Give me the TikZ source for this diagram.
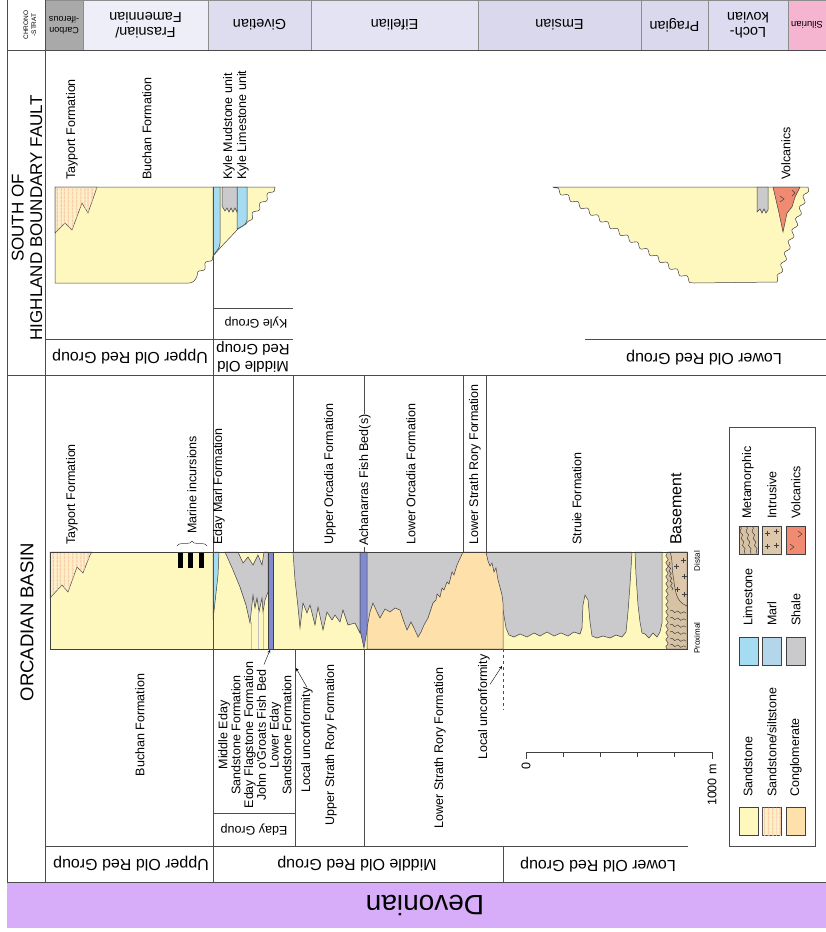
\documentclass[tikz,border=0pt]{standalone}
\usepackage{fontspec}
\setmainfont{Liberation Sans}
\usetikzlibrary{arrows,positioning,decorations.pathmorphing,decorations.pathreplacing,patterns.meta}

\definecolor{sandcol}{HTML}{FFF8BE}
\definecolor{siltcol}{HTML}{FDEFC8}
\definecolor{siltline}{HTML}{F6C49E}
\definecolor{congcol}{HTML}{FDE0AA}
\definecolor{limecol}{HTML}{A6DCF2}
\definecolor{marlcol}{HTML}{B3D6EA}
\definecolor{shalecol}{HTML}{CACACD}
\definecolor{fishcol}{HTML}{7F8AD0}
\definecolor{metacol}{HTML}{D8C2A4}
\definecolor{intrcol}{HTML}{DEC8AC}
\definecolor{volccol}{HTML}{F08A70}
\definecolor{devcol}{HTML}{D7ADF9}
\definecolor{carbcol}{HTML}{A9A9A9}
\definecolor{frascol}{HTML}{EEEEF8}
\definecolor{givcol}{HTML}{DEDDEF}
\definecolor{eifcol}{HTML}{E3E3F3}
\definecolor{emscol}{HTML}{D9D8EC}
\definecolor{pracol}{HTML}{D9D8EC}
\definecolor{lokcol}{HTML}{DCDBEF}
\definecolor{silcol}{HTML}{F5B5D0}

\begin{document}
\begin{tikzpicture}[
    x=1pt, y=-1pt,
    ln/.style={draw=black!70, line width=0.8pt},
    edge/.style={draw=black!75, line width=0.5pt},
    sand/.style={edge, fill=sandcol},
    silt/.style={edge, fill=siltcol, postaction={pattern={Lines[angle=90,distance=4pt,line width=1.5pt]}, pattern color=siltline}},
    cong/.style={edge, fill=congcol},
    lime/.style={edge, fill=limecol},
    marl/.style={edge, fill=marlcol},
    shale/.style={edge, fill=shalecol},
    fish/.style={edge, fill=fishcol},
    meta/.style={edge, fill=metacol},
    intr/.style={edge, fill=intrcol},
    volc/.style={edge, fill=volccol},
    wavy/.style={decoration={snake, amplitude=2pt, segment length=12pt}},
    lbl/.style={font=\fontsize{12.5}{13}\selectfont, inner sep=0pt},
    vlbl/.style={lbl, rotate=90},
    ulbl/.style={lbl, rotate=180},
    grp/.style={ulbl, align=center, font=\fontsize{16}{18}\selectfont},
    hdr/.style={rotate=180, inner sep=0pt, align=center, font=\fontsize{14.5}{15.5}\selectfont},
    arrow/.style={->, >=stealth}
]
\useasboundingbox (0,0) rectangle (826,932);

% Шапка: ярусы
\foreach \xa/\xb/\hc in {45/83/carbcol, 83/208/frascol, 208/311/givcol, 311/478/eifcol,
    478/641/emscol, 641/708/pracol, 708/788/lokcol, 788/826/silcol}
  \filldraw[fill=\hc, draw=black!45, line width=0.6pt] (\xa,0) rectangle (\xb,50);
\node[rotate=90, inner sep=0pt, align=center, font=\fontsize{6.5}{8}\selectfont] (chrono) at (30,25) {CHRONO\\-STRAT};
\node[hdr, font=\fontsize{9}{11}\selectfont] (carbon) at (64,25) {Carbon\\-iferous};
\node[hdr] (frasnian) at (145.5,25) {Frasnian/\\Famennian};
\node[hdr] (givetian) at (259.5,25) {Givetian};
\node[hdr] (eifelian) at (394.5,25) {Eifelian};
\node[hdr] (emsian) at (559.5,25) {Emsian};
\node[hdr] (pragian) at (674.5,25) {Pragian};
\node[hdr] (lochkovian) at (748,25) {Loch-\\kovian};
\node[hdr, font=\fontsize{9.5}{10}\selectfont] (silurian) at (807,25) {Silurian};

% Рамка
\fill[devcol] (7,882) rectangle (826,928);
\draw[ln] (7,0) -- (7,882);
\draw[ln] (45,0) -- (45,882);
\draw[ln] (7,50) -- (826,50);
\draw[ln] (7,375) -- (826,375);
\draw[ln] (7,882) -- (826,882);
\node[rotate=180, inner sep=0pt, font=\fontsize{28}{30}\selectfont] (devonian) at (425,905) {Devonian};
\node[rotate=90, inner sep=0pt, align=center, font=\fontsize{17}{18.5}\selectfont] (southhbf) at (27,218) {SOUTH OF\\HIGHLAND BOUNDARY FAULT};
\node[rotate=90, inner sep=0pt, font=\fontsize{18.5}{19}\selectfont] (orcbasin) at (27,622) {ORCADIAN BASIN};

% Южнее разлома: колонки
\filldraw[sand, wavy] (55,187) -- (275,187) decorate{-- (246,224)} -- (238,229)
  -- (221,247) -- (213,256) decorate{-- (197,276)} to[out=-110,in=0] (189,283)
  -- (55,283) -- cycle;
\filldraw[silt] (55,187) -- (97,187) -- (95,193) -- (88,213) -- (82,203) -- (72,230)
  -- (65,223) -- (55,233) -- cycle;
\filldraw[lime] (213,187) -- (220,187) -- (220,243) to[out=-90,in=60] (213,256) -- cycle;
\filldraw[lime] (237,187) -- (247,187) -- (247,220) to[out=-100,in=30] (237,229) -- cycle;
\filldraw[shale] (222,187) -- (237,187) -- (237,212) -- (235,208) -- (233,212) -- (231,208)
  -- (229,212) -- (227,208) -- (225,211) -- (222,206) -- cycle;
\filldraw[sand, wavy] (553,187) -- (808,187) decorate{-- (777,282)} -- (694,283)
  decorate{-- (553,187)} -- cycle;
\filldraw[shale] (757,187) -- (768,187) -- (768,210) -- (766,213) -- (764,209) -- (762,213)
  -- (760,209) -- (757,212) -- cycle;
\filldraw[volc] (773,187) -- (800,187) -- (795,197) -- (792,207) -- (787,213) -- (783,232)
  -- (779,213) -- cycle;
\draw[edge] (780,196) -- (784,199) -- (780,202) (792,190) -- (795,193) -- (792,196);

\node[vlbl, anchor=west] (stayport) at (72,180) {Tayport Formation};
\node[vlbl, anchor=west] (sbuchan) at (147,180) {Buchan Formation};
\node[vlbl, anchor=west] (kylemud) at (229,180) {Kyle Mudstone unit};
\node[vlbl, anchor=west] (kylelime) at (243,180) {Kyle Limestone unit};
\node[vlbl, anchor=west] (svolc) at (786,180) {Volcanics};

% Южнее разлома: группы
\draw[ln] (213,187) -- (213,375);
\draw[ln] (45,339) -- (293,339);
\draw[ln] (213,308) -- (293,308);
\draw[ln] (585,339) -- (826,339);
\node[grp] (suorg) at (130,357) {Upper Old Red Group};
\node[grp, font=\fontsize{15}{17}\selectfont] (smorg) at (253,357) {Middle Old\\Red Group};
\node[ulbl] (kylegroup) at (256,323) {Kyle Group};
\node[grp] (slorg) at (704,358) {Lower Old Red Group};

% Оркадийский бассейн: колонка
\fill[sandcol] (50,552) rectangle (687,649);
\filldraw[silt] (50,552) -- (92,552) -- (90,555) -- (83,573) -- (77,567) -- (68,592)
  -- (62,585) -- (50,598) -- cycle;
\foreach \bx in {178,188,199}
  \fill[black] (\bx,553) rectangle (\bx+4.5,568);
\filldraw[lime] (213,552) -- (219,552) -- (218,575) -- (213,620) -- cycle;
\filldraw[shale] (225,552) -- (238,552) -- (243,563) -- (248,557) -- (253,565) -- (258,555)
  -- (262,565) -- (264,552) -- (268,552) -- (268,592) -- (265,600) -- (263,612) -- (262,598)
  -- (259,612) -- (257,598) -- (255,608) -- (253,595) -- (250,623) -- (246,605) -- (240,587)
  -- (233,570) -- cycle;
\foreach \lx/\ly in {251/622, 258/610, 263/612}
  \draw[black!25, line width=1pt] (\lx,\ly) -- (\lx,649);
\filldraw[fish] (268,552) rectangle (273,649);
\filldraw[shale] (293,552) -- (360,552) -- (360,633) -- (355,623) -- (348,625) -- (343,610)
  -- (340,622) -- (335,615) -- (332,620) -- (327,612) -- (323,630) -- (318,607) -- (315,625)
  -- (310,605) -- (307,613) -- (303,603) -- (300,628) -- (298,607) -- (295,580) -- cycle;
\fill[shalecol] (367,552) rectangle (463,640);
\filldraw[shale] (486,552) -- (632,552) -- (630,585) -- (628,612) -- (626,632) -- (622,637)
  -- (616,635) -- (610,638) -- (603,636) -- (597,638) -- (592,636) -- (590,622) -- (588,600)
  -- (585,595) -- (583,605) -- (582,628) -- (580,634) -- (574,632) -- (568,636) -- (561,633)
  -- (554,636) -- (547,632) -- (540,636) -- (534,633) -- (527,637) -- (520,634) -- (514,637)
  -- (509,635) -- (506,628) -- (503,610) -- (486,610) -- cycle;
\filldraw[shale] (635,552) -- (662,552) -- (662,623) -- (660,632) -- (657,637) -- (653,633)
  -- (649,638) -- (645,634) -- (642,633) -- (640,622) -- (638,605) -- (636,575) -- cycle;
\filldraw[cong] (367,649) -- (367,628) -- (370,612) -- (373,603) -- (377,612) -- (380,618)
  -- (385,609) -- (390,612) -- (395,608) -- (400,610) -- (404,622) -- (407,630) -- (411,622)
  -- (414,628) -- (418,637) -- (421,632) -- (424,625) -- (428,618) -- (431,609) -- (433,603)
  -- (436,600) -- (437,594) -- (440,597) -- (442,588) -- (444,590) -- (447,582) -- (449,584)
  -- (452,572) -- (454,575) -- (457,565) -- (463,552) -- (486,552) -- (488,561) -- (490,566)
  -- (492,563) -- (494,572) -- (496,568) -- (498,580) -- (500,587) -- (502,595) -- (503,603)
  -- (503,649) -- cycle;
\filldraw[fish] (360,552) -- (367,552) -- (367,630) -- (364,648) -- (360,630) -- cycle;

% Фундамент
\filldraw[meta, decoration={snake, amplitude=1.2pt, segment length=7pt}] (667,552) -- (687,552)
  -- (687,649) -- (667,649) decorate{-- (667,552)};
\foreach \wy in {611,618,625,632,639,645}
  \draw[edge, decorate, decoration={snake, amplitude=1pt, segment length=6pt}] (670,\wy) -- (686,\wy+2);
\draw[edge, decorate, decoration={snake, amplitude=1pt, segment length=5pt}] (669,562) -- (672,590);
\filldraw[intr] (670,552) to[out=-70,in=100] (673,575) to[out=-80,in=160] (687,606) -- (687,552) -- cycle;
\foreach \px/\py in {676/566, 684/576, 677/589, 684/594, 683/560}
  \draw[edge] (\px-2.5,\py) -- (\px+2.5,\py) (\px,\py-2.5) -- (\px,\py+2.5);
\draw[edge, line width=0.7pt] (50,552) rectangle (687,649);
\node[rotate=90, inner sep=0pt, font=\fontsize{8}{8}\selectfont] (proximal) at (697,638) {Proximal};
\node[rotate=90, inner sep=0pt, font=\fontsize{8}{8}\selectfont] (distal) at (697,561) {Distal};

% Оркадийский бассейн: линии
\draw[ln] (213,375) -- (213,882);
\draw[ln] (293,375) -- (293,552);
\draw[ln] (364,375) -- (364,552);
\draw[ln] (463,375) -- (463,552);
\draw[ln] (486,375) -- (486,552);
\draw[ln] (45,846) -- (688,846);
\draw[ln] (295,649) -- (295,846);
\draw[ln] (213,813) -- (295,813);
\draw[ln] (364,649) -- (364,846);
\draw[ln] (503,846) -- (503,882);
\draw[ln, dashed, line width=0.6pt] (503,649) -- (503,710);

% Подписи над колонкой
\node[vlbl, anchor=west] (otayport) at (72,545) {Tayport Formation};
\node[vlbl, anchor=west] (marine) at (192,534) {Marine incursions};
\draw[edge, decorate, decoration={brace, amplitude=5pt}] (177,546) -- (207,546);
\node[vlbl, anchor=west] (edaymarl) at (219,545) {Eday Marl Formation};
\node[vlbl, anchor=west] (uorcadia) at (330,545) {Upper Orcadia Formation};
\node[vlbl, anchor=west, fill=white, inner sep=1pt] (achanarras) at (365,547) {Achanarras Fish Bed(s)};
\node[vlbl, anchor=west] (lorcadia) at (411,545) {Lower Orcadia Formation};
\node[vlbl, anchor=west] (lsrory) at (475,545) {Lower Strath Rory Formation};
\node[vlbl, anchor=west] (struie) at (577,545) {Struie Formation};
\node[vlbl, anchor=west, font=\fontsize{16}{16}\selectfont] (basement) at (676,545) {Basement};

% Подписи под колонкой
\node[vlbl] (obuchan) at (140,725) {Buchan Formation};
\node[vlbl, align=center, font=\fontsize{12.5}{12.8}\selectfont] (edaystack) at (255,735)
  {Middle Eday\\Sandstone Formation\\Eday Flagstone Formation\\John o'Groats Fish Bed\\Lower Eday\\Sandstone Formation};
\coordinate (jogtip) at (270,650);
\draw[arrow] ([xshift=9pt,yshift=-3pt]edaystack.east) -- (jogtip);
\node[vlbl] (unconf1) at (307,740) {Local unconformity};
\coordinate (unconf1tip) at (296,668);
\draw[arrow] (unconf1.east) -- (unconf1tip);
\node[vlbl] (usrory) at (331,745) {Upper Strath Rory Formation};
\node[vlbl] (lsrory2) at (440,748) {Lower Strath Rory Formation};
\node[vlbl] (unconf2) at (484,707) {Local unconformity};
\coordinate (unconf2tip) at (502,666);
\draw[arrow] ([yshift=-30pt]unconf2.south east) -- (unconf2tip);

% Группы
\node[grp] (ouorg) at (131,864) {Upper Old Red Group};
\node[grp] (omorg) at (357,864) {Middle Old Red Group};
\node[grp] (olorg) at (598,865) {Lower Old Red Group};
\node[ulbl] (edaygroup) at (254,830) {Eday Group};

% Масштаб
\draw[edge, line width=0.7pt] (526,752) -- (712,752);
\foreach \tx in {563,600,637,674}
  \draw[edge, line width=0.7pt] (\tx,752) -- (\tx,757);
\draw[edge, line width=0.7pt] (526,752) -- (526,759) (712,752) -- (712,759);
\node[vlbl, anchor=east] (scalezero) at (526,762) {0};
\node[vlbl, anchor=east] (scaleend) at (712,764) {1000 m};

% Легенда
\draw[ln] (729,427) rectangle (815,846);
\filldraw[sand] (739,807) rectangle (758,835);
\filldraw[silt] (762,807) rectangle (781,835);
\filldraw[cong] (786,807) rectangle (805,835);
\filldraw[lime] (739,637) rectangle (758,665);
\filldraw[marl] (762,637) rectangle (781,665);
\filldraw[shale] (786,637) rectangle (805,665);
\filldraw[meta] (739,526) rectangle (758,554);
\begin{scope}
  \clip (739,526) rectangle (758,554);
  \foreach \mx in {743,749,755}
    \draw[edge, decorate, decoration={snake, amplitude=1pt, segment length=7pt}] (\mx-3,526) -- (\mx+2,554);
\end{scope}
\filldraw[intr] (762,526) rectangle (781,554);
\foreach \px/\py in {767/533, 776/531, 767/546, 776/545}
  \draw[edge] (\px-2.5,\py) -- (\px+2.5,\py) (\px,\py-2.5) -- (\px,\py+2.5);
\filldraw[volc] (786,526) rectangle (805,554);
\draw[edge] (798,531) -- (802,534) -- (798,537) (790,544) -- (794,547) -- (790,550);
\node[vlbl, anchor=west] (lgsand) at (748,797) {Sandstone};
\node[vlbl, anchor=west] (lgsilt) at (772,797) {Sandstone/siltstone};
\node[vlbl, anchor=west] (lgcong) at (796,797) {Conglomerate};
\node[vlbl, anchor=west] (lglime) at (748,626) {Limestone};
\node[vlbl, anchor=west] (lgmarl) at (772,626) {Marl};
\node[vlbl, anchor=west] (lgshale) at (796,626) {Shale};
\node[vlbl, anchor=west] (lgmeta) at (748,519) {Metamorphic};
\node[vlbl, anchor=west] (lgintr) at (772,519) {Intrusive};
\node[vlbl, anchor=west] (lgvolc) at (796,519) {Volcanics};

\end{tikzpicture}
\end{document}
